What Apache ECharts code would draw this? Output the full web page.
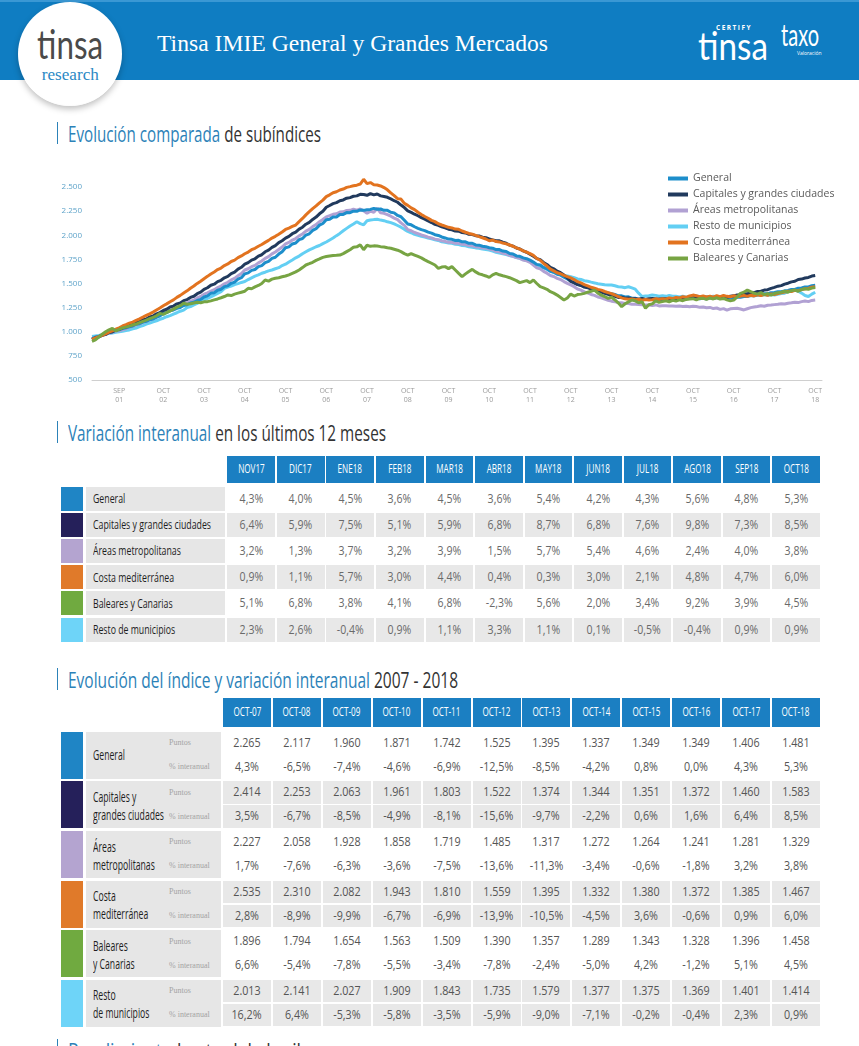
<!DOCTYPE html>
<html><head><meta charset="utf-8">
<script src="https://cdn.jsdelivr.net/npm/echarts@6/dist/echarts.min.js"></script>
<style>
html,body{margin:0;padding:0}
body{width:859px;height:1046px;overflow:hidden;background:#fff;position:relative;font-family:'Open Sans',sans-serif}
#chart{position:absolute;left:0;top:160px;width:859px;height:255px}
</style></head><body>
<div id="chart"></div>
<script>
// ---------------- DATA ----------------
const seriesNames = ['General','Capitales y grandes ciudades','Áreas metropolitanas','Resto de municipios','Costa mediterránea','Baleares y Canarias'];
const tickIdx = [8,21,33,45,57,69,81,93,105,117,129,141,153,165,177,189,201,213];
const tickLabels = ['SEP\n01','OCT\n02','OCT\n03','OCT\n04','OCT\n05','OCT\n06','OCT\n07','OCT\n08','OCT\n09','OCT\n10','OCT\n11','OCT\n12','OCT\n13','OCT\n14','OCT\n15','OCT\n16','OCT\n17','OCT\n18'];

// monthly index values Jan 2001 – Oct 2018
const general = [
930,945,952,968,975,992,998,1015,1020,1032,1040,1052,
1060,1078,1083,1100,1108,1125,1132,1152,1165,1190,1198,1218,
1225,1243,1252,1272,1280,1298,1305,1324,1335,1360,1372,1398,
1405,1430,1440,1468,1476,1502,1515,1545,1560,1600,1610,1636,
1645,1675,1685,1716,1730,1760,1772,1805,1830,1870,1880,1910,
1920,1955,1966,2002,2015,2050,2068,2105,2122,2160,2165,2190,
2190,2215,2216,2235,2234,2250,2248,2262,2258,2265,2268,2278,
2270,2272,2258,2258,2238,2232,2205,2192,2155,2117,2108,2088,
2072,2058,2048,2032,2022,2006,1998,1982,1972,1960,1958,1946,
1948,1932,1932,1916,1917,1900,1897,1886,1882,1871,1866,1852,
1852,1836,1832,1810,1806,1786,1782,1766,1757,1742,1722,1698,
1692,1666,1652,1626,1617,1596,1587,1566,1547,1525,1512,1492,
1482,1466,1462,1446,1442,1426,1422,1406,1402,1395,1386,1372,
1372,1360,1362,1348,1347,1336,1337,1334,1334,1337,1336,1328,
1334,1332,1340,1338,1342,1341,1345,1344,1348,1349,1352,1342,
1350,1340,1352,1344,1354,1345,1355,1347,1348,1349,1357,1358,
1364,1365,1374,1375,1384,1385,1394,1395,1404,1406,1414,1415,
1424,1427,1438,1439,1452,1453,1464,1465,1477,1481];
const capitales = [
920,938,946,963,973,993,1000,1018,1026,1040,1050,1068,
1076,1095,1103,1124,1133,1154,1163,1186,1198,1220,1233,1256,
1266,1289,1298,1322,1333,1356,1368,1394,1410,1440,1456,1482,
1493,1519,1533,1559,1573,1602,1618,1649,1668,1700,1716,1742,
1756,1784,1798,1829,1846,1874,1893,1924,1943,1970,1988,2016,
2033,2064,2083,2114,2133,2164,2188,2222,2248,2290,2308,2328,
2338,2358,2366,2384,2390,2404,2408,2424,2423,2414,2432,2418,
2427,2408,2402,2393,2377,2358,2342,2313,2287,2253,2237,2218,
2202,2183,2167,2148,2132,2113,2102,2088,2077,2063,2057,2043,
2042,2028,2024,2010,2007,1996,1992,1980,1974,1961,1952,1943,
1942,1928,1917,1898,1887,1868,1857,1838,1824,1803,1782,1758,
1747,1718,1697,1668,1652,1628,1612,1588,1557,1522,1507,1488,
1480,1463,1457,1443,1434,1418,1412,1398,1387,1374,1367,1356,
1357,1348,1350,1343,1342,1336,1344,1334,1342,1344,1340,1340,
1342,1343,1340,1344,1344,1346,1347,1348,1349,1351,1357,1348,
1356,1348,1359,1350,1362,1354,1364,1356,1368,1372,1380,1383,
1392,1393,1404,1406,1417,1420,1432,1436,1450,1460,1472,1478,
1494,1503,1517,1523,1542,1546,1557,1563,1577,1583];
const areas = [
930,942,950,964,971,987,993,1007,1010,1020,1030,1047,
1056,1072,1080,1097,1106,1122,1133,1152,1168,1190,1203,1222,
1233,1252,1263,1284,1296,1317,1328,1350,1366,1390,1403,1422,
1436,1457,1473,1497,1513,1537,1553,1580,1603,1640,1653,1674,
1688,1714,1733,1760,1778,1807,1826,1852,1878,1910,1926,1950,
1966,1994,2013,2042,2060,2090,2110,2140,2163,2190,2203,2217,
2223,2240,2243,2257,2258,2270,2260,2272,2253,2227,2250,2238,
2280,2233,2227,2213,2197,2178,2162,2128,2102,2058,2047,2028,
2017,2003,1992,1980,1972,1960,1954,1943,1937,1928,1927,1916,
1917,1906,1904,1893,1892,1880,1877,1868,1867,1858,1850,1833,
1830,1813,1807,1790,1782,1768,1760,1743,1734,1719,1692,1663,
1652,1626,1607,1583,1572,1553,1542,1520,1502,1485,1467,1443,
1432,1413,1402,1386,1377,1360,1352,1338,1327,1317,1312,1300,
1300,1293,1292,1286,1284,1283,1280,1278,1277,1272,1278,1268,
1270,1270,1267,1268,1264,1266,1262,1264,1260,1264,1262,1253,
1256,1248,1252,1240,1246,1232,1240,1225,1238,1241,1244,1236,
1226,1238,1250,1256,1262,1270,1265,1274,1277,1281,1285,1290,
1287,1296,1300,1306,1302,1312,1318,1312,1325,1329];
const resto = [
950,956,961,969,974,983,987,994,999,1005,1013,1019,
1031,1039,1053,1064,1079,1089,1103,1114,1129,1140,1156,1167,
1183,1197,1213,1224,1251,1261,1279,1294,1313,1330,1346,1361,
1379,1397,1416,1450,1463,1474,1489,1499,1511,1520,1541,1559,
1576,1589,1606,1617,1631,1640,1653,1664,1686,1700,1723,1744,
1766,1784,1809,1829,1849,1864,1881,1894,1913,1930,1951,1971,
1996,2019,2046,2071,2096,2117,2140,2120,2108,2150,2158,2162,
2165,2157,2151,2139,2131,2117,2101,2084,2061,2040,2026,2009,
1999,1989,1981,1971,1963,1954,1946,1932,1926,1920,1916,1907,
1903,1894,1891,1881,1876,1869,1866,1857,1853,1847,1836,1824,
1816,1807,1799,1789,1781,1769,1761,1749,1739,1726,1711,1689,
1676,1659,1646,1629,1616,1604,1596,1584,1579,1570,1561,1547,
1541,1529,1523,1514,1506,1497,1493,1487,1485,1484,1476,1467,
1463,1457,1466,1454,1441,1400,1365,1371,1374,1381,1377,1369,
1373,1367,1376,1369,1367,1361,1369,1359,1366,1363,1371,1364,
1361,1365,1363,1367,1361,1364,1359,1363,1361,1363,1369,1371,
1376,1369,1379,1371,1381,1375,1385,1377,1386,1381,1388,1395,
1400,1415,1425,1432,1420,1400,1375,1365,1390,1410];
const costa = [
920,936,949,963,977,996,1009,1026,1041,1060,1074,1089,
1100,1119,1134,1151,1169,1186,1204,1226,1247,1270,1289,1311,
1330,1356,1377,1401,1424,1451,1474,1501,1524,1550,1574,1599,
1620,1644,1660,1686,1703,1728,1742,1768,1786,1808,1826,1850,
1865,1886,1904,1926,1947,1971,1989,2011,2034,2060,2074,2091,
2106,2141,2174,2211,2244,2276,2304,2336,2364,2400,2419,2441,
2451,2469,2479,2496,2504,2513,2519,2531,2580,2535,2546,2524,
2521,2511,2494,2471,2439,2411,2379,2375,2330,2310,2284,2266,
2239,2216,2194,2176,2154,2141,2119,2106,2094,2082,2076,2064,
2061,2044,2031,2019,2011,1999,1986,1974,1961,1943,1951,1934,
1931,1919,1911,1899,1886,1869,1856,1839,1826,1810,1791,1759,
1741,1709,1681,1649,1631,1611,1601,1584,1571,1559,1541,1519,
1506,1489,1476,1461,1451,1439,1431,1417,1406,1395,1381,1364,
1351,1341,1336,1339,1331,1337,1326,1334,1329,1332,1341,1334,
1343,1337,1351,1344,1356,1349,1363,1357,1371,1380,1373,1364,
1371,1361,1369,1359,1373,1364,1376,1367,1363,1372,1366,1369,
1376,1367,1379,1371,1383,1374,1386,1377,1391,1385,1396,1404,
1411,1419,1416,1429,1426,1437,1446,1449,1461,1467];
const baleares = [
900,915,945,975,1000,1020,1035,1010,1025,1040,1048,1058,
1070,1080,1095,1108,1120,1135,1150,1165,1190,1180,1200,1215,
1235,1255,1270,1295,1285,1290,1298,1305,1300,1310,1312,1320,
1330,1340,1352,1365,1381,1375,1390,1400,1410,1420,1450,1445,
1465,1480,1500,1536,1525,1545,1555,1560,1570,1578,1590,1605,
1620,1640,1665,1692,1705,1720,1740,1755,1771,1779,1785,1790,
1792,1795,1810,1830,1850,1875,1880,1900,1850,1896,1885,1890,
1888,1882,1878,1870,1865,1855,1845,1830,1810,1794,1810,1795,
1780,1765,1745,1727,1710,1692,1657,1670,1675,1654,1675,1640,
1605,1571,1600,1625,1646,1620,1600,1590,1578,1563,1590,1605,
1590,1580,1571,1560,1545,1530,1509,1520,1530,1509,1536,1500,
1467,1455,1440,1415,1400,1380,1355,1329,1350,1390,1370,1385,
1390,1398,1410,1420,1432,1400,1380,1365,1346,1357,1330,1300,
1260,1290,1310,1329,1320,1300,1312,1243,1280,1289,1320,1305,
1312,1320,1310,1325,1318,1330,1322,1335,1340,1343,1330,1345,
1346,1335,1350,1340,1352,1338,1345,1330,1320,1328,1360,1398,
1410,1432,1415,1400,1390,1405,1385,1395,1380,1396,1405,1410,
1420,1410,1425,1432,1420,1438,1445,1440,1452,1458];

// Table 1: variación interanual últimos 12 meses
const t1Months = ['NOV17','DIC17','ENE18','FEB18','MAR18','ABR18','MAY18','JUN18','JUL18','AGO18','SEP18','OCT18'];
const t1Labels = ['General','Capitales y grandes ciudades','Áreas metropolitanas','Costa mediterránea','Baleares y Canarias','Resto de municipios'];
const t1General   = [4.3,4.0,4.5,3.6,4.5,3.6,5.4,4.2,4.3,5.6,4.8,5.3];
const t1Capitales = [6.4,5.9,7.5,5.1,5.9,6.8,8.7,6.8,7.6,9.8,7.3,8.5];
const t1Areas     = [3.2,1.3,3.7,3.2,3.9,1.5,5.7,5.4,4.6,2.4,4.0,3.8];
const t1Costa     = [0.9,1.1,5.7,3.0,4.4,0.4,0.3,3.0,2.1,4.8,4.7,6.0];
const t1Baleares  = [5.1,6.8,3.8,4.1,6.8,-2.3,5.6,2.0,3.4,9.2,3.9,4.5];
const t1Resto     = [2.3,2.6,-0.4,0.9,1.1,3.3,1.1,0.1,-0.5,-0.4,0.9,0.9];

// Table 2: evolución del índice 2007-2018
const t2Years = ['OCT-07','OCT-08','OCT-09','OCT-10','OCT-11','OCT-12','OCT-13','OCT-14','OCT-15','OCT-16','OCT-17','OCT-18'];
const t2Labels = [['General'],['Capitales y','grandes ciudades'],['Áreas','metropolitanas'],['Costa','mediterránea'],['Baleares','y Canarias'],['Resto','de municipios']];
const t2GeneralPts = [2265,2117,1960,1871,1742,1525,1395,1337,1349,1349,1406,1481];
const t2GeneralPct = [4.3,-6.5,-7.4,-4.6,-6.9,-12.5,-8.5,-4.2,0.8,0.0,4.3,5.3];
const t2CapitalesPts = [2414,2253,2063,1961,1803,1522,1374,1344,1351,1372,1460,1583];
const t2CapitalesPct = [3.5,-6.7,-8.5,-4.9,-8.1,-15.6,-9.7,-2.2,0.6,1.6,6.4,8.5];
const t2AreasPts = [2227,2058,1928,1858,1719,1485,1317,1272,1264,1241,1281,1329];
const t2AreasPct = [1.7,-7.6,-6.3,-3.6,-7.5,-13.6,-11.3,-3.4,-0.6,-1.8,3.2,3.8];
const t2CostaPts = [2535,2310,2082,1943,1810,1559,1395,1332,1380,1372,1385,1467];
const t2CostaPct = [2.8,-8.9,-9.9,-6.7,-6.9,-13.9,-10.5,-4.5,3.6,-0.6,0.9,6.0];
const t2BalearesPts = [1896,1794,1654,1563,1509,1390,1357,1289,1343,1328,1396,1458];
const t2BalearesPct = [6.6,-5.4,-7.8,-5.5,-3.4,-7.8,-2.4,-5.0,4.2,-1.2,5.1,4.5];
const t2RestoPts = [2013,2141,2027,1909,1843,1735,1579,1377,1375,1369,1401,1414];
const t2RestoPct = [16.2,6.4,-5.3,-5.8,-3.5,-5.9,-9.0,-7.1,-0.2,-0.4,2.3,0.9];

// ---------------- STYLE ----------------
const lineColors = ['#1d8ecb','#213a5d','#b1a1d3','#63cff3','#e2731f','#77a443'];
const rowColors = ['#1f85c5','#25205a','#b4a4d0','#e07a2a','#70aa40','#6ed4f8'];
const blue = '#1b7fc2';

// ---------------- HELPERS ----------------
const cctx = document.createElement('canvas').getContext('2d');
function mw(text, font){ cctx.font = font; return cctx.measureText(text).width; }
function box(x,y,w,h,style){
  const d=document.createElement('div');
  d.style.cssText=`position:absolute;left:${x}px;top:${y}px;width:${w}px;height:${h}px;`+(style||'');
  document.body.appendChild(d); return d;
}
function label(x,y,w,h,html,o){
  const align=o.align||'left';
  const d=box(x,y,w,h,`display:flex;align-items:center;justify-content:${align==='center'?'center':'flex-start'};white-space:nowrap;`);
  const s=document.createElement('span');
  s.innerHTML=html;
  s.style.cssText=`display:inline-block;white-space:nowrap;font-weight:${o.weight||400};font-size:${o.size}px;font-family:${o.family||"'Open Sans'"};color:${o.color||'#333'};line-height:1;letter-spacing:${o.ls||0}px;transform:scaleX(${o.k||1});transform-origin:${align==='center'?'center':'left'} center;`;
  d.appendChild(s); return d;
}
function fitK(text, size, family, target, weight){ return target / mw(text, `${weight||400} ${size}px ${family}`); }
const fmtPts = v => String(v).replace(/\B(?=(\d{3})+(?!\d))/g,'.');
const fmtPct = v => v.toFixed(1).replace('.',',') + '%';

// ---------------- HEADER ----------------
box(0,0,859,80,`background:#0f7dc2;border-top:2px solid #3a98d4;box-sizing:border-box;`);
box(18,2,104,104,`border-radius:50%;background:radial-gradient(circle at 50% 45%,#ffffff 0,#ffffff 72%,#ececec 80%,#dedede 100%);box-shadow:0 3px 6px rgba(0,0,0,0.25);`);
label(20,24,100,40,'tinsa',{size:40,family:"Lato",weight:400,color:'#4a4a4a',align:'center',k:fitK('tinsa',40,'Lato',66,400)});
label(20,64,100,20,'research',{size:17,family:"'Liberation Serif'",color:'#2a88c4',align:'center',k:fitK('research',17,"'Liberation Serif'",57)});
const hT='Tinsa IMIE General y Grandes Mercados';
label(157,29,420,28,hT,{size:23,family:"'Liberation Serif'",color:'#ffffff',k:fitK(hT,23,"'Liberation Serif'",391)});
label(698,25,76,40,'tinsa',{size:38,family:'Lato',weight:400,color:'#ffffff',k:fitK('tinsa',38,'Lato',70,400)});
label(716,23,60,10,'CERTIFY',{size:6.5,weight:700,family:"'Open Sans'",color:'#ffffff',ls:1.5});
label(781,14,44,40,'taxo',{size:30,family:'Lato',weight:400,color:'#ffffff',k:fitK('taxo',30,'Lato',38,400)});
label(797,49,30,8,'Valoración',{size:5,color:'#ffffff'});

// ---------------- SECTION TITLES ----------------
function sectionTitle(y, bluePart, rest, target){
  box(56.5,y+2,1.6,22,`background:#2c82b8;`);
  const full = bluePart + ' ' + rest;
  const k = fitK(full, 22, "'Open Sans'", target);
  label(68,y,500,26,`<span style="color:#2c82b8">${bluePart}</span> ${rest}`,{size:22,color:'#333',k:k});
}
sectionTitle(120,'Evolución comparada','de subíndices',253);
sectionTitle(419,'Variación interanual','en los últimos 12 meses',318);
sectionTitle(666,'Evolución del índice y variación interanual','2007 - 2018',390);
sectionTitle(1037,'Rendimiento','bruto del alquiler',250);

// ---------------- TABLE 1 ----------------
const kLab1 = fitK('Capitales y grandes ciudades',13.5,"'Open Sans'",118);
const t1Rows=[t1General,t1Capitales,t1Areas,t1Costa,t1Baleares,t1Resto];
t1Months.forEach((m,i)=>{
  const x=227.3+i*49.55;
  box(x,455.5,47.7,27,`background:${blue};`);
  label(x,455.5,47.7,27,m,{size:12.5,color:'#fff',align:'center',k:kLab1});
});
t1Rows.forEach((row,r)=>{
  const y=487+r*26.1;
  const shaded = r%2===1;
  box(60.7,y,22.6,24,`background:${rowColors[r]};`);
  box(85.7,y,139.3,24,`background:#e6e6e6;`);
  label(93,y,132,24,t1Labels[r],{size:13.5,color:'#1e1e1e',k:kLab1});
  row.forEach((v,i)=>{
    const x=227.3+i*49.55;
    if(shaded) box(x,y,47.7,24,`background:#e8e8e8;`);
    label(x,y,47.7,24,fmtPct(v),{size:12,color:'#6a6a6a',align:'center',k:0.88});
  });
});

// ---------------- TABLE 2 ----------------
const kLab2 = fitK('grandes ciudades',14.5,"'Open Sans'",71);
const t2Rows=[[t2GeneralPts,t2GeneralPct],[t2CapitalesPts,t2CapitalesPct],[t2AreasPts,t2AreasPct],[t2CostaPts,t2CostaPct],[t2BalearesPts,t2BalearesPct],[t2RestoPts,t2RestoPct]];
t2Years.forEach((m,i)=>{
  const x=223+i*49.9;
  box(x,698,48,29,`background:${blue};`);
  label(x,698,48,29,m,{size:12.5,color:'#fff',align:'center',k:kLab1});
});
t2Rows.forEach((rr,b)=>{
  const y=731.7+b*49.6;
  const shaded=b%2===1;
  box(60.7,y,22,47,`background:${rowColors[b]};`);
  box(85.7,y,135.3,47,`background:#e6e6e6;`);
  const lab=t2Labels[b];
  if(lab.length===1) label(93,y,120,47,lab[0],{size:14.5,color:'#1e1e1e',k:kLab2});
  else { label(93,y+6,120,20,lab[0],{size:14.5,color:'#1e1e1e',k:kLab2}); label(93,y+24,120,20,lab[1],{size:14.5,color:'#1e1e1e',k:kLab2}); }
  label(169,y,50,23,'Puntos',{size:8,family:"'Liberation Serif'",color:'#a3a3a3'});
  label(169,y+24,50,23,'% interanual',{size:8,family:"'Liberation Serif'",color:'#a3a3a3'});
  rr[0].forEach((v,i)=>{
    const x=223+i*49.9;
    if(shaded){ box(x,y,48,22.8,`background:#e8e8e8;`); box(x,y+24,48,22.8,`background:#e8e8e8;`); }
    label(x,y,48,22.8,fmtPts(v),{size:12.5,color:'#555',align:'center',k:0.86});
    label(x,y+24,48,22.8,fmtPct(rr[1][i]),{size:12.5,color:'#555',align:'center',k:0.86});
  });
});

// ---------------- LINE CHART ----------------
const months=[];
for(let y=2001;y<=2018;y++) for(let m=1;m<=12;m++) months.push(y+'-'+String(m).padStart(2,'0'));
const tickMap=new Map(tickIdx.map((ix,j)=>[ix,tickLabels[j]]));
const seriesData=[general,capitales,areas,resto,costa,baleares];
const drawOrder=[3,2,0,1,4,5];
const chart=echarts.init(document.getElementById('chart'),null,{renderer:'canvas'});
chart.setOption({
  animation:false,
  grid:{left:92,right:37,top:27,bottom:35},
  legend:{orient:'vertical',left:663,top:8,itemWidth:20,itemHeight:4,itemGap:5,icon:'rect',
    data:seriesNames,textStyle:{fontSize:10.5,color:'#5a5a5a',fontFamily:'Open Sans'}},
  xAxis:{type:'category',data:months,boundaryGap:false,
    axisLine:{lineStyle:{color:'#cfcfcf',width:1}},axisTick:{show:false},
    axisLabel:{interval:(i)=>tickMap.has(i),formatter:(v,i)=>tickMap.get(i)||'',color:'#9a9a9a',fontSize:7,lineHeight:9,margin:6,fontFamily:'Open Sans'}},
  yAxis:{type:'value',min:500,max:2500,interval:250,splitLine:{show:false},axisLine:{show:false},axisTick:{show:false},
    axisLabel:{color:'#5ea3c9',fontSize:8,margin:10,fontFamily:'Open Sans',formatter:v=>fmtPts(v)}},
  series:drawOrder.map(ix=>({name:seriesNames[ix],type:'line',data:seriesData[ix],symbol:'none',clip:false,
    lineStyle:{width:3,color:lineColors[ix]},itemStyle:{color:lineColors[ix]}}))
});
</script>
</body></html>
